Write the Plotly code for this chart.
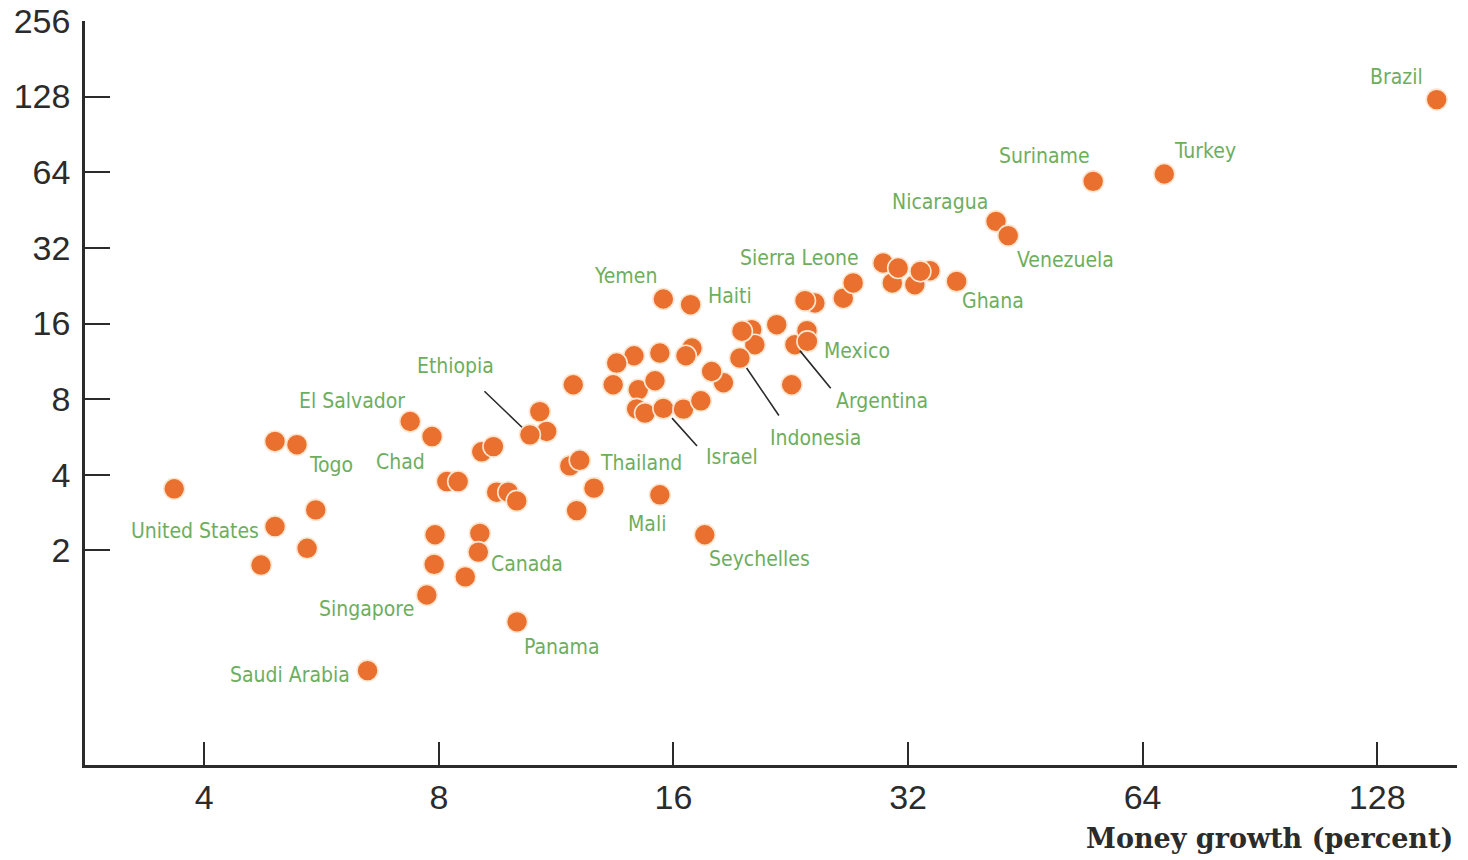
import math
import plotly.graph_objects as go

# Average annual money growth (percent) and inflation (percent) by country
money_growth = [
    3.66, 4.73, 4.93, 5.26, 4.93, 5.42, 5.56, 6.48, 7.35, 7.84,
    7.72, 7.91, 7.89, 8.19, 8.47, 8.65, 9.03, 8.99, 9.08, 9.40,
    9.49, 9.82, 10.07, 10.08, 10.78, 11.0, 10.47, 11.90, 11.78, 12.13,
    12.65, 12.02, 13.39, 14.24, 13.53, 15.37, 16.90, 16.60, 18.55, 17.91,
    14.42, 15.15, 14.35, 14.71, 15.53, 16.48, 17.35, 15.37, 17.55, 15.53,
    16.83, 20.16, 20.35, 19.59, 19.47, 21.71, 22.69, 24.30, 23.60, 22.91,
    23.74, 23.77, 26.43, 27.21, 29.73, 30.55, 31.08, 34.13, 32.65, 33.19,
    36.94, 41.50, 43.02, 55.30, 68.23, 152.6,
]
inflation = [
    3.52, 1.75, 5.43, 5.27, 2.49, 2.04, 2.90, 0.665, 6.52, 5.68,
    1.33, 2.31, 1.76, 3.76, 3.76, 1.57, 2.34, 1.97, 4.94, 5.18,
    3.41, 3.41, 3.15, 1.04, 7.14, 5.95, 5.77, 9.13, 4.34, 4.57,
    3.54, 2.88, 9.13, 11.91, 11.14, 12.21, 12.78, 11.91, 9.30, 10.31,
    8.72, 9.47, 7.32, 7.04, 7.35, 7.30, 7.88, 3.33, 2.31, 20.03,
    19.01, 15.12, 13.18, 14.91, 11.66, 15.83, 9.13, 19.31, 19.73, 13.18,
    14.98, 13.58, 20.18, 23.20, 27.86, 23.20, 26.61, 25.96, 22.83, 25.80,
    23.54, 40.81, 35.79, 58.88, 62.98, 124.5,
]
country = [
    "", "", "", "Togo", "United States", "", "", "Saudi Arabia", "El Salvador", "Chad",
    "Singapore", "", "", "", "", "", "", "Canada", "", "",
    "", "", "", "Panama", "", "", "Ethiopia", "", "", "Thailand",
    "", "", "", "", "", "", "", "", "", "",
    "", "", "", "", "Israel", "", "", "Mali", "Seychelles", "Yemen",
    "Haiti", "", "", "", "Indonesia", "", "", "", "Sierra Leone", "Argentina",
    "", "Mexico", "", "", "", "", "", "", "", "",
    "Ghana", "Nicaragua", "Venezuela", "Suriname", "Turkey", "Brazil",
]

x_ticks = [4, 8, 16, 32, 64, 128]
y_ticks = [2, 4, 8, 16, 32, 64, 128, 256]

# Label placement (pixel offsets of the label centre from its point)
label_offset = {
    "Brazil": (-40, -23), "Turkey": (41, -23), "Suriname": (-49, -25),
    "Nicaragua": (-56, -19), "Venezuela": (57, 24), "Ghana": (36, 20),
    "Sierra Leone": (-5, -43), "Yemen": (-38, -23), "Haiti": (39, -9),
    "Mexico": (50, 10), "Thailand": (61, 3), "Mali": (-13, 29),
    "Seychelles": (55, 24), "El Salvador": (-58, -21), "Togo": (34, 20),
    "Chad": (-32, 25), "United States": (-80, 4), "Canada": (49, 12),
    "Singapore": (-60, 14), "Panama": (45, 25), "Saudi Arabia": (-78, 4),
    "Ethiopia": (-74, -69), "Israel": (69, 49), "Indonesia": (76, 80),
    "Argentina": (87, 56),
}
# Leader lines: (tail dx, tail dy, standoff) in pixels
leader = {
    "Ethiopia": (-47, -45, 11), "Israel": (35, 39, 13),
    "Indonesia": (40, 59, 12), "Argentina": (37, 45, 8),
}

ORANGE = "#EA7030"
GREEN = "#6DAE5E"
INK = "#2b2b2b"
LABEL_FONT = "Liberation Sans Narrow, DejaVu Sans Condensed, sans-serif"

fig = go.Figure()
fig.add_trace(go.Scatter(
    x=money_growth, y=inflation, mode="markers",
    marker=dict(size=21, color=ORANGE, line=dict(color="#FCE6CF", width=1.6)),
    hoverinfo="skip", showlegend=False,
))

annotations = []
for gx, iy, name in zip(money_growth, inflation, country):
    if not name:
        continue
    dx, dy = label_offset[name]
    annotations.append(dict(
        x=math.log10(gx), y=math.log10(iy), xref="x", yref="y",
        text=name, showarrow=False, xshift=dx, yshift=-dy,
        font=dict(family=LABEL_FONT, size=21, color=GREEN),
    ))
    if name in leader:
        ax, ay, so = leader[name]
        annotations.append(dict(
            x=math.log10(gx), y=math.log10(iy), xref="x", yref="y",
            text="", showarrow=True, arrowhead=0, arrowwidth=1.6,
            arrowcolor=INK, ax=ax, ay=ay, axref="pixel", ayref="pixel",
            standoff=so,
        ))

annotations.append(dict(
    x=1, y=0, xref="paper", yref="paper", xanchor="right", yanchor="middle",
    xshift=-2, yshift=-73, showarrow=False,
    text="<b>Money growth (percent)</b>",
    font=dict(family="DejaVu Serif, serif", size=27, color=INK),
))

axis_common = dict(
    type="log", showgrid=False, zeroline=False, showline=True,
    linecolor=INK, linewidth=2.5, ticks="inside", tickcolor=INK,
    tickwidth=2, mirror=False, automargin=False,
    tickfont=dict(family="Liberation Sans, Arial, sans-serif", size=34, color=INK),
)

fig.update_layout(
    width=1468, height=860,
    margin=dict(l=85, r=11, t=21, b=95),
    paper_bgcolor="white", plot_bgcolor="white",
    xaxis=dict(
        axis_common, range=[0.4490, 2.2096],
        tickvals=x_ticks, ticktext=[str(v) for v in x_ticks],
        ticklen=23, ticklabelstandoff=0,
    ),
    yaxis=dict(
        axis_common, range=[-0.5527, 2.408],
        tickvals=y_ticks, ticktext=[str(v) for v in y_ticks],
        ticklen=25, ticklabelstandoff=5,
    ),
    annotations=annotations,
)

fig.write_html("out.html")
